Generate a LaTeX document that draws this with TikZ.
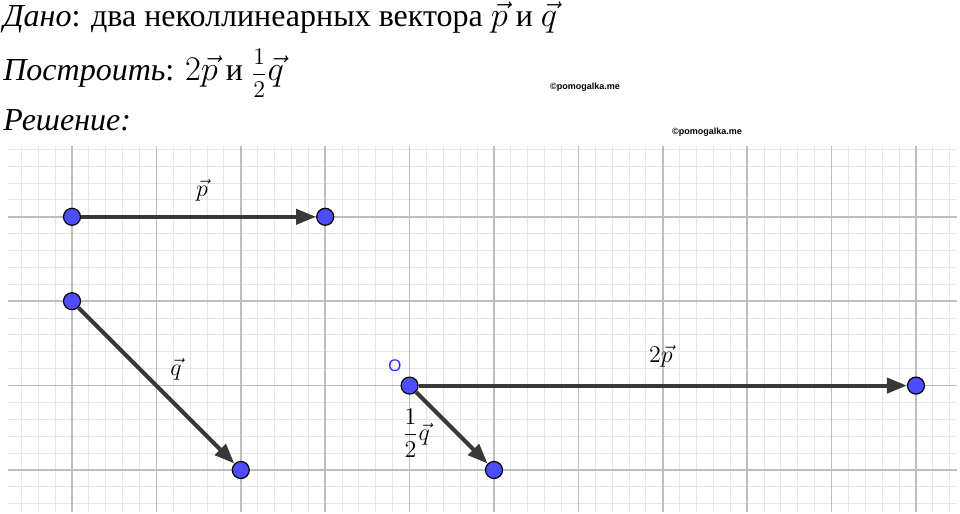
\documentclass[tikz,border=0pt]{standalone}
\usepackage{amsmath}
\usepackage{fontspec}
\setmainfont{Liberation Serif}
\newfontfamily\wmfont{Liberation Sans}
\usetikzlibrary{arrows.meta}

\definecolor{ptblue}{RGB}{77,77,255}
\definecolor{lblblue}{RGB}{40,40,255}
\definecolor{minorgray}{RGB}{230,230,230}
\definecolor{majorgray}{RGB}{190,190,190}
\definecolor{vecgray}{RGB}{56,56,56}

\begin{document}
\begin{tikzpicture}
  [x=8.44pt, y=8.44pt,
   dot/.style={circle, draw=black, line width=0.6pt, fill=ptblue, minimum size=8.5pt, inner sep=0pt},
   vect/.style={draw=vecgray, line width=2pt, -{Triangle[length=10pt,width=7.5pt]}},
   lbl/.style={font=\fontsize{11.5}{14}\selectfont},
   title/.style={anchor=base west, font=\fontsize{16}{19}\selectfont, inner sep=0pt},
   wm/.style={font=\wmfont\bfseries\fontsize{4.5}{5}\selectfont}]
  \useasboundingbox (-4.2654,-2.6066) rectangle (52.607,27.844);
  \fill[white] (-4.2654,-2.6066) rectangle (52.607,27.844);

  % grid
  \draw[minorgray, line width=0.5pt, step=1] (-3.79,-2.49) grid (52.43,19.19);
  \draw[majorgray, line width=0.75pt, step=5] (-3.79,-2.49) grid (52.43,19.19);

  % texts above the grid
  \node[title] (given) at (-4.09,26.26) {\textit{Дано}: два неколлинеарных вектора $\vec{p}$ и $\vec{q}$};
  \node[title] (task) at (-4.09,23.05) {\textit{Построить}: $2\vec{p}$ и {\fontsize{12}{14}\selectfont$\dfrac{1}{2}$}$\vec{q}$};
  \node[title] (sol) at (-4.09,20.14) {\textit{Решение:}};
  \node[wm] (wm1) at (30.39,22.69) {©pomogalka.me};
  \node[wm] (wm2) at (37.62,20.02) {©pomogalka.me};

  % points
  \node[dot] (p1) at (0,15) {};
  \node[dot] (p2) at (15,15) {};
  \node[dot] (q1) at (0,10) {};
  \node[dot] (q2) at (10,0) {};
  \node[dot] (O) at (20,5) {};
  \node[dot] (p3) at (50,5) {};
  \node[dot] (q3) at (25,0) {};

  % vectors
  \draw[vect] (p1) -- (p2);
  \draw[vect] (q1) -- (q2);
  \draw[vect] (O) -- (p3);
  \draw[vect] (O) -- (q3);

  % labels
  \node[lbl] (lp) at (7.70,16.59) {$\vec{p}$};
  \node[lbl] (lq) at (6.16,5.98) {$\vec{q}$};
  \node[lbl] (l2p) at (34.89,6.75) {$2\vec{p}$};
  \node[lbl] (lhq) at (20.38,2.19) {$\dfrac{1}{2}\vec{q}$};
  \node[font=\wmfont\fontsize{8.4}{10}\selectfont, text=lblblue] (lO) at (19.13,6.16) {O};
\end{tikzpicture}
\end{document}
